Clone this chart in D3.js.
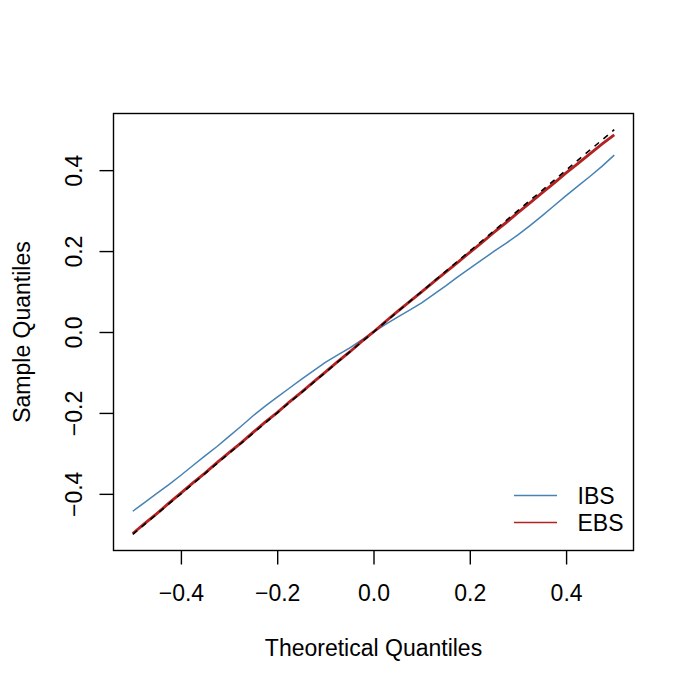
<!doctype html>
<meta charset="utf-8">
<title>QQ plot</title>
<script src="https://cdn.jsdelivr.net/npm/d3@7"></script>
<style>
  body { margin: 0; background: #fff; }
  text { font-family: "Liberation Sans", Arial, sans-serif; fill: #000; }
</style>
<body>
<script>
// theoretical quantiles and the two sample series
var theo = [-0.500, -0.475, -0.450, -0.425, -0.400, -0.375, -0.350, -0.325, -0.300, -0.275,
            -0.250, -0.225, -0.200, -0.175, -0.150, -0.125, -0.100, -0.075, -0.050, -0.025,
             0.000,  0.025,  0.050,  0.075,  0.100,  0.125,  0.150,  0.175,  0.200,  0.225,
             0.250,  0.275,  0.300,  0.325,  0.350,  0.375,  0.400,  0.425,  0.450,  0.475, 0.500];
var ibs = [-0.443, -0.421, -0.399, -0.377, -0.354, -0.330, -0.306, -0.283, -0.258, -0.233,
           -0.207, -0.183, -0.161, -0.139, -0.117, -0.096, -0.075, -0.057, -0.040, -0.020,
            0.000,  0.019,  0.037,  0.054,  0.072,  0.093,  0.114,  0.136,  0.157,  0.178,
            0.199,  0.219,  0.240,  0.263,  0.287,  0.312,  0.337,  0.361,  0.385,  0.410, 0.437];
var ebs = [-0.498, -0.473, -0.449, -0.423, -0.398, -0.373, -0.349, -0.323, -0.298, -0.274,
           -0.248, -0.223, -0.199, -0.173, -0.149, -0.124, -0.099, -0.074, -0.050, -0.024,
            0.000,  0.026,  0.051,  0.075,  0.099,  0.124,  0.148,  0.172,  0.197,  0.221,
            0.246,  0.270,  0.295,  0.319,  0.344,  0.368,  0.393,  0.417,  0.441,  0.465, 0.487];
var refLine = [-0.5, 0.5];
var ticks = [-0.4, -0.2, 0.0, 0.2, 0.4];
var seriesNames = ['IBS', 'EBS'];
var seriesColors = ['#4682b4', '#b22222'];

var width = 692, height = 692;
var pLeft = 113.5, pRight = 633.5, pTop = 113.5, pBottom = 550.5;

var svg = d3.select('body').append('svg')
  .attr('width', width)
  .attr('height', height);

var x = d3.scaleLinear().domain([-0.54, 0.54]).range([pLeft, pRight]);
var y = d3.scaleLinear().domain([-0.54, 0.54]).range([pBottom, pTop]);

var fmt = function(d) { return d3.format('.1f')(d).replace('-', '\u2212'); };

// axes, R style: ticks outside, labels parallel to axis
var xAxis = svg.append('g')
  .attr('transform', 'translate(0,' + pBottom + ')')
  .call(d3.axisBottom(x).tickValues(ticks).tickSize(14).tickFormat(fmt));
var yAxis = svg.append('g')
  .attr('transform', 'translate(' + pLeft + ',0)')
  .call(d3.axisLeft(y).tickValues(ticks).tickSize(14).tickFormat(fmt));

[xAxis, yAxis].forEach(function(g) {
  g.select('.domain').remove();
  g.selectAll('line').attr('stroke', '#000').attr('stroke-width', 1.4);
  g.selectAll('text').style('font-size', '23px').attr('fill', '#000');
});
xAxis.selectAll('text').attr('y', 0).attr('dy', 0)
  .attr('transform', 'translate(0,50.5)');
yAxis.selectAll('text')
  .attr('x', 0).attr('dy', 0)
  .attr('text-anchor', 'middle')
  .attr('transform', 'translate(-31.5,0) rotate(-90)');

// plot box
svg.append('rect')
  .attr('x', pLeft).attr('y', pTop)
  .attr('width', pRight - pLeft).attr('height', pBottom - pTop)
  .attr('fill', 'none').attr('stroke', '#000').attr('stroke-width', 1.4);

// series
var line = d3.line()
  .x(function(d) { return x(d[0]); })
  .y(function(d) { return y(d[1]); });

svg.append('path')
  .attr('d', line(d3.zip(theo, ibs)))
  .attr('fill', 'none').attr('stroke', seriesColors[0]).attr('stroke-width', 1.5);
svg.append('path')
  .attr('d', line(d3.zip(theo, ebs)))
  .attr('fill', 'none').attr('stroke', seriesColors[1]).attr('stroke-width', 2.9);

// reference y = x
svg.append('path')
  .attr('d', line(refLine.map(function(v) { return [v, v]; })))
  .attr('fill', 'none').attr('stroke', '#000').attr('stroke-width', 1.6)
  .attr('stroke-dasharray', '5.8,5.8');

// axis titles
svg.append('text')
  .attr('x', (pLeft + pRight) / 2).attr('y', 656)
  .attr('text-anchor', 'middle').style('font-size', '23px')
  .text('Theoretical Quantiles');
svg.append('text')
  .attr('transform', 'translate(30,' + ((pTop + pBottom) / 2) + ') rotate(-90)')
  .attr('text-anchor', 'middle').style('font-size', '23px')
  .text('Sample Quantiles');

// legend
var leg = svg.append('g');
seriesNames.forEach(function(name, i) {
  var ly = 495.5 + i * 27;
  leg.append('line')
    .attr('x1', 514).attr('x2', 557).attr('y1', ly).attr('y2', ly)
    .attr('stroke', seriesColors[i]).attr('stroke-width', 1.5);
  leg.append('text')
    .attr('x', 577.5).attr('y', ly + 8.5)
    .style('font-size', '23px')
    .text(name);
});
</script>
</body>
